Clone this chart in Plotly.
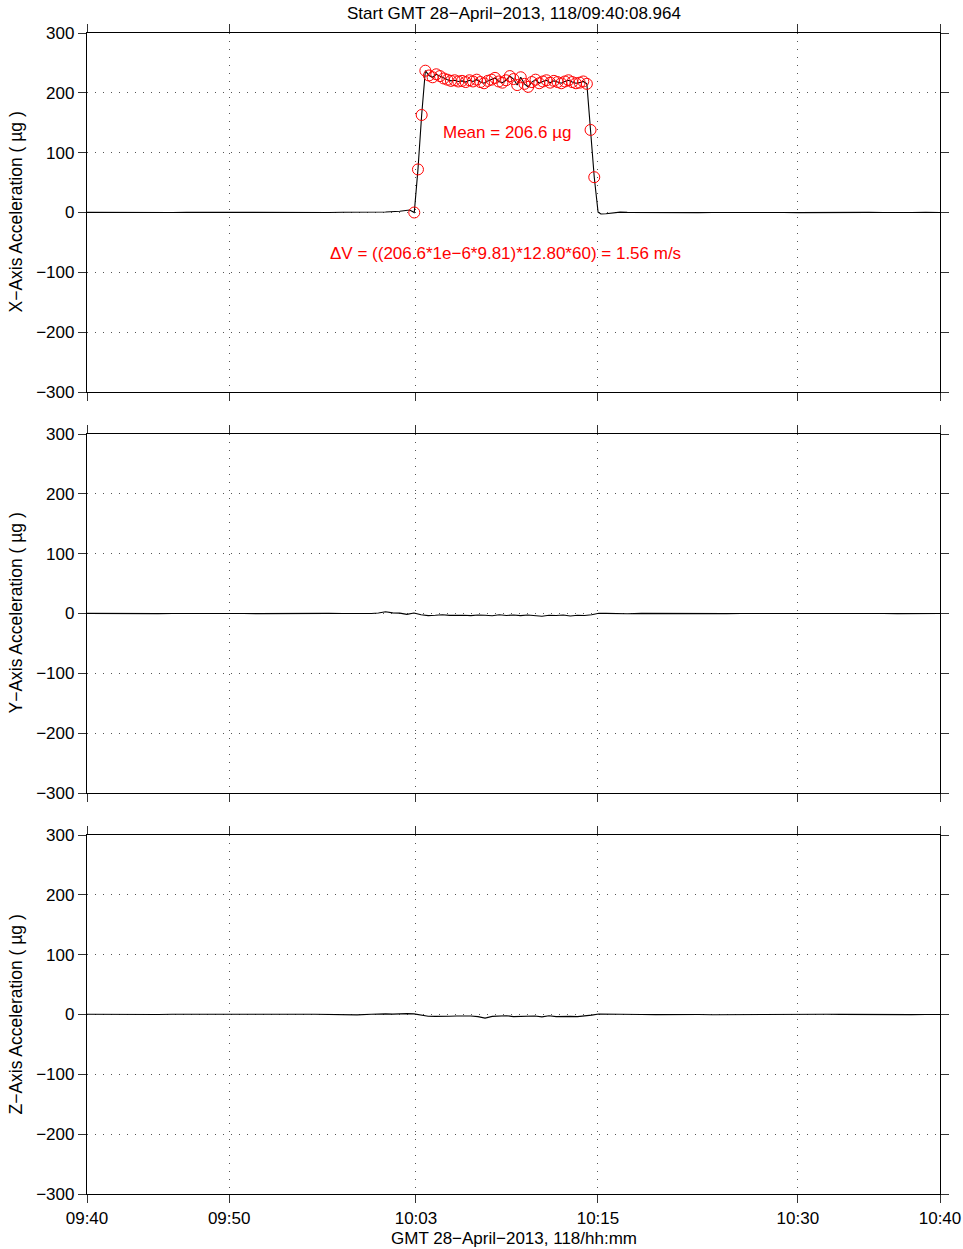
import plotly.graph_objects as go
from plotly.subplots import make_subplots

# ---------------- data (minutes after 09:40) ----------------
# X-axis acceleration (micro-g)
x_pre_t = [0, 1, 2, 3, 4, 5, 6, 7, 8, 9, 10, 11, 12, 13, 14, 15, 16, 17, 18, 19, 20, 21, 22, 22.4, 22.7]
x_pre_v = [0.2, 0.0, -0.2, 0.1, 0.3, 0.0, -0.1, 0.2, 0.1, -0.2, 0.0, 0.3, 0.1, -0.1, 0.2, 0.0, -0.3, 0.1, 0.4, 0.2, 0.5, 0.8, 2.0, 3.8, 4.2]

burn_t = [23.02, 23.28, 23.54, 23.80, 24.05, 24.31, 24.57, 24.83, 25.09, 25.35,
          25.60, 25.86, 26.12, 26.38, 26.64, 26.90, 27.15, 27.41, 27.67, 27.93,
          28.19, 28.45, 28.70, 28.96, 29.22, 29.48, 29.74, 30.00, 30.26, 30.51,
          30.77, 31.03, 31.29, 31.55, 31.81, 32.06, 32.32, 32.58, 32.84, 33.10,
          33.36, 33.61, 33.87, 34.13, 34.39, 34.65, 34.91, 35.16, 35.42, 35.68]
burn_v = [0, 72, 163, 237, 229, 226, 231, 228, 224, 222,
          220, 221, 219, 220, 218, 221, 219, 222, 218, 216,
          220, 222, 225, 219, 217, 221, 228, 223, 213, 226,
          215, 210, 218, 222, 216, 219, 221, 217, 220, 218,
          216, 219, 221, 218, 216, 217, 219, 215, 138, 59]

x_post_t = [35.95, 36.15, 36.5, 37.0, 37.5, 38, 39, 40, 41, 42, 43, 44, 45, 46, 47, 48, 49,
            50, 51, 52, 53, 54, 55, 56, 57, 58, 59, 60]
x_post_v = [0.5, -2.6, -2.0, -0.2, 0.6, 0.2, -0.1, 0.0, 0.3, 0.1, -0.2, 0.0, 0.2, 0.1, -0.1, 0.3, 0.0,
            -0.2, 0.1, 0.2, 0.0, -0.1, 0.2, 0.1, -0.3, 0.0, 0.2, 0.0]

# Common time grid for Y and Z
yz_t = [0, 1, 2, 3, 4, 5, 6, 7, 8, 9, 10, 11, 12, 13, 14, 15, 16, 17, 18, 19, 20,
        20.5, 21.0, 21.5, 22.0, 22.5, 23.0, 23.5, 24.0, 24.5, 25.0, 25.5, 26.0, 26.5, 27.0,
        27.5, 28.0, 28.5, 29.0, 29.5, 30.0, 30.5, 31.0, 31.5, 32.0, 32.5, 33.0, 33.5, 34.0,
        34.5, 35.0, 35.5, 36.0, 36.5, 37.0,
        38, 39, 40, 41, 42, 43, 44, 45, 46, 47, 48, 49, 50, 51, 52, 53, 54, 55, 56, 57, 58, 59, 60]
y_v = [0.2, -0.1, 0.0, 0.3, 0.1, -0.2, 0.0, 0.2, -0.1, 0.1, 0.3, 0.0, -0.2, 0.1, 0.2, 0.0, -0.1, 0.2, 0.1, -0.2, 0.0,
       0.8, 3.0, 1.0, 0.6, -1.5, 0.8, -2.0, -3.5, -3.0, -2.2, -3.2, -2.5, -2.8, -3.6,
       -2.4, -3.0, -3.8, -2.2, -3.4, -2.5, -3.6, -2.6, -3.2, -4.5, -2.8, -3.4, -2.4, -4.2,
       -3.0, -3.3, -2.0, 0.5, 0.2, -0.3,
       -0.5, 0.2, 0.0, -0.3, 0.1, 0.3, 0.0, -0.2, 0.1, 0.2, 0.4, 0.1, 0.3, 0.0, 0.2, -0.1, 0.1, 0.3, 0.0, -0.2, 0.1, 0.0, -0.1]
z_v = [0.5, 0.3, 0.0, -0.4, -0.2, 0.1, 0.3, 0.2, -0.1, 0.0, 0.4, 0.2, 0.1, -0.2, 0.0, 0.3, 0.5, 0.2, 0.8, -0.6, 0.4,
       0.9, 1.0, 0.6, 1.2, 1.4, 1.0, -1.5, -2.8, -3.2, -2.5, -3.0, -2.6, -2.2, -2.6,
       -3.5, -6.0, -3.2, -2.8, -2.0, -3.5, -3.0, -3.6, -2.4, -4.0, -2.2, -3.5, -3.0, -3.2,
       -3.6, -2.6, -1.0, 0.8, 0.5, 0.3,
       0.2, 0.0, -0.2, 0.1, 0.3, 0.0, -0.3, -0.1, 0.2, 0.4, 0.1, 0.0, -0.2, 0.1, 0.3, 0.2, -0.1, 0.0, 0.2, 0.1, -0.2, 0.0, 0.1]

tick_vals = [0, 10, 23.14, 35.94, 50, 60]
tick_text = ["09:40", "09:50", "10:03", "10:15", "10:30", "10:40"]
y_ticks = [-300, -200, -100, 0, 100, 200, 300]

title_text = "Start GMT 28\u2212April\u22122013, 118/09:40:08.964"
xlabel_text = "GMT 28\u2212April\u22122013, 118/hh:mm"
ylabels = ["X\u2212Axis Acceleration ( \u00b5g )", "Y\u2212Axis Acceleration ( \u00b5g )", "Z\u2212Axis Acceleration ( \u00b5g )"]
mean_text = "Mean = 206.6 \u00b5g"
dv_text = "\u0394V = ((206.6*1e\u22126*9.81)*12.80*60) = 1.56 m/s"

# ---------------- figure ----------------
FONT = "Liberation Sans, Arial, Helvetica, sans-serif"
FS = 17
fig = make_subplots(rows=3, cols=1, vertical_spacing=42 / 1161)

x_all_t = x_pre_t + burn_t + x_post_t
x_all_v = x_pre_v + burn_v + x_post_v

line_style = dict(color="black", width=1.1)
fig.add_trace(go.Scatter(x=x_all_t, y=x_all_v, mode="lines", line=line_style, showlegend=False), row=1, col=1)
fig.add_trace(go.Scatter(x=burn_t, y=burn_v, mode="markers",
                         marker=dict(symbol="circle-open", size=11, color="#ff0000", line=dict(width=1, color="#ff0000")),
                         showlegend=False), row=1, col=1)
fig.add_trace(go.Scatter(x=yz_t, y=y_v, mode="lines", line=line_style, showlegend=False), row=2, col=1)
fig.add_trace(go.Scatter(x=yz_t, y=z_v, mode="lines", line=line_style, showlegend=False), row=3, col=1)

axis_common = dict(
    showline=True, linecolor="black", linewidth=1.3, mirror="ticks",
    ticks="outside", ticklen=8, tickwidth=1, tickcolor="#333",
    showgrid=True, gridcolor="#555", gridwidth=1, griddash="1px,7px",
    zeroline=False, automargin=False, tickfont=dict(family=FONT, size=FS, color="black"),
)
for r in (1, 2, 3):
    fig.update_xaxes(range=[0, 60], tickmode="array", tickvals=tick_vals, ticktext=tick_text,
                     showticklabels=(r == 3), **axis_common, row=r, col=1)
    fig.update_yaxes(range=[-300, 300], tickmode="array", tickvals=y_ticks,
                     **axis_common, row=r, col=1)

annotations = [
    dict(text=title_text, xref="paper", yref="paper", x=0.5, y=1, xanchor="center", yanchor="bottom",
         yshift=8, showarrow=False, font=dict(family=FONT, size=FS, color="black")),
    dict(text=xlabel_text, xref="paper", yref="paper", x=0.5, y=0, xanchor="center", yanchor="top",
         yshift=-33, showarrow=False, font=dict(family=FONT, size=FS, color="black")),
    dict(text=mean_text, xref="x", yref="y", x=29.54, y=133, xanchor="center", yanchor="middle",
         showarrow=False, font=dict(family=FONT, size=FS, color="#ff0000")),
    dict(text=dv_text, xref="x", yref="y", x=29.47, y=-69, xanchor="center", yanchor="middle",
         showarrow=False, font=dict(family=FONT, size=FS, color="#ff0000")),
]
for i, lab in enumerate(ylabels):
    yref = "y domain" if i == 0 else f"y{i + 1} domain"
    annotations.append(dict(text=lab, xref="paper", yref=yref, x=0, y=0.5, xanchor="center", yanchor="middle",
                            xshift=-72, textangle=-90, showarrow=False,
                            font=dict(family=FONT, size=17.5, color="black")))

fig.update_layout(
    width=963, height=1249,
    margin=dict(l=87, r=23, t=33, b=55, autoexpand=False),
    plot_bgcolor="white", paper_bgcolor="white",
    annotations=annotations,
    showlegend=False,
)

fig.write_html("out.html", config={"displayModeBar": False},
               post_script="document.body.style.margin='0';")
